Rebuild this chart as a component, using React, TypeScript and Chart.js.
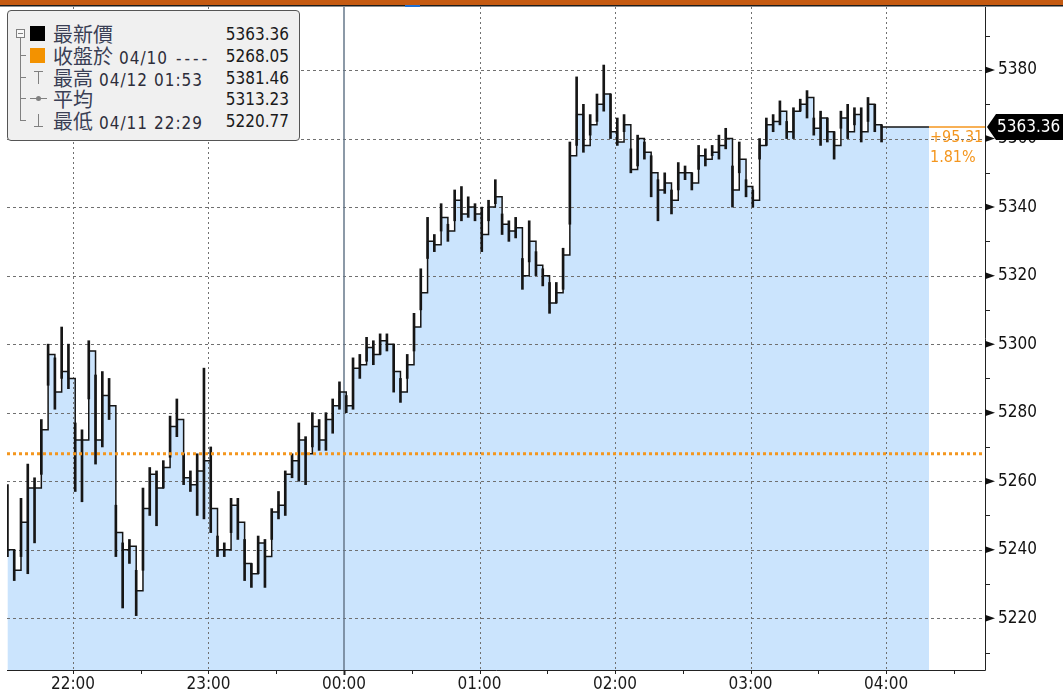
import React, { useEffect, useRef } from "react";
import { Chart, registerables } from "chart.js";
Chart.register(...registerables);

// ---- data (3-minute bars, minutes relative to 00:00 of 04/12) ----
const barStartMinute = -149; // 21:31
const barStepMinutes = 3;
const closes = [
  5240, 5234, 5248, 5258, 5258, 5275, 5297, 5286, 5292, 5290,
  5272, 5272, 5298, 5272, 5285, 5282, 5245, 5240, 5241, 5228,
  5252, 5262, 5258, 5264, 5276, 5278, 5261, 5259, 5263, 5266,
  5252, 5240, 5240, 5253, 5248, 5236, 5233, 5242, 5238, 5251,
  5253, 5262, 5266, 5272, 5268, 5276, 5272, 5278, 5282, 5286,
  5282, 5293, 5294, 5299, 5297, 5301, 5300, 5292, 5286, 5294,
  5305, 5315, 5330, 5329, 5337, 5333, 5342, 5338, 5340, 5338,
  5332, 5340, 5343, 5335, 5333, 5334, 5320, 5330, 5323, 5320,
  5312, 5315, 5326, 5355, 5367, 5358, 5364, 5370, 5373, 5362,
  5359, 5364, 5351, 5360, 5356, 5350, 5345, 5347, 5342, 5350,
  5350, 5347, 5355, 5354, 5356, 5358, 5360, 5345, 5354, 5346,
  5342, 5358, 5364, 5365, 5368, 5362, 5368, 5370, 5372, 5363,
  5366, 5362, 5358, 5366, 5362, 5367, 5362, 5370, 5364, 5363.36,
];
const highs = [
  5259, 5240, 5255, 5265, 5261, 5278, 5300, 5296, 5305, 5300,
  5277, 5275, 5301, 5291, 5292, 5290, 5253, 5242, 5243, 5234,
  5258, 5264, 5263, 5266, 5279, 5284, 5268, 5263, 5268, 5293,
  5270, 5244, 5242, 5255, 5255, 5243, 5236, 5244, 5243, 5252,
  5257, 5263, 5268, 5277, 5273, 5280, 5278, 5280, 5284, 5289,
  5285, 5296, 5297, 5302, 5301, 5303, 5303, 5300, 5290, 5297,
  5309, 5322, 5337, 5332, 5341, 5335, 5345, 5346, 5343, 5341,
  5340, 5342, 5348, 5338, 5336, 5337, 5325, 5336, 5327, 5322,
  5318, 5318, 5328, 5359, 5378, 5370, 5367, 5373, 5381.46, 5373,
  5366, 5367, 5357, 5361, 5359, 5355, 5348, 5350, 5345, 5353,
  5352, 5350, 5358, 5357, 5358, 5361, 5363, 5352, 5359, 5348,
  5345, 5360, 5366, 5367, 5371, 5365, 5369, 5371.5, 5374, 5366,
  5368, 5366, 5362, 5368, 5370, 5369, 5369, 5372, 5370, 5364,
];
const lows = [
  5238, 5231, 5238, 5233, 5242, 5262, 5288, 5281, 5290, 5287,
  5257, 5254, 5284, 5265, 5270, 5278, 5238, 5223, 5236, 5220.77,
  5234, 5250, 5247, 5258, 5267, 5273, 5259, 5257, 5250, 5249,
  5245, 5238, 5238, 5245, 5243, 5231, 5229, 5233, 5229, 5243,
  5249, 5250, 5261, 5260, 5259, 5270, 5269, 5269, 5274, 5281,
  5280, 5281, 5290, 5295, 5294, 5297, 5298, 5286, 5283, 5290,
  5298, 5310, 5325, 5327, 5333, 5330, 5336, 5336, 5337, 5336,
  5327, 5336, 5341, 5332, 5330, 5331, 5316, 5324, 5320, 5317,
  5309, 5312, 5316, 5335, 5358, 5356, 5361, 5365, 5368, 5360,
  5358, 5362, 5350, 5352, 5354, 5343, 5336, 5344, 5338, 5345,
  5348, 5345, 5351, 5352, 5355, 5354, 5357, 5340, 5350, 5343,
  5340, 5354, 5358, 5362, 5364, 5360, 5360, 5368, 5366, 5361,
  5358, 5359, 5354, 5363, 5360, 5364, 5359, 5365, 5362, 5359,
];
const lastPrice = 5363.36;
const prevClose = 5268.05;
const extendToMinute = 259; // last price carried forward to 04:19
const xTickMinutes = [-120, -60, 0, 60, 120, 180, 240];
const yTickValues = [5220, 5240, 5260, 5280, 5300, 5320, 5340, 5360, 5380];
const legendNames = ["最新價", "收盤於", "最高", "平均", "最低"];
const legendNotes = ["", "04/10", "04/12 01:53", "", "04/11 22:29"];
const legendValues = ["5363.36", "5268.05", "5381.46", "5313.23", "5220.77"];

const X_MIN = -149.2;
const X_MAX = 283.8;
const Y_MIN = 5204.9;
const Y_MAX = 5398.4;

const FONT = "'DejaVu Sans Condensed', 'DejaVu Sans', sans-serif";
const ORANGE = "#f4961e";

function fmtTime(m: number) {
  const mm = ((Math.round(m) % 1440) + 1440) % 1440;
  const h = Math.floor(mm / 60);
  const mi = mm % 60;
  return String(h).padStart(2, "0") + ":" + String(mi).padStart(2, "0");
}

function zeroPad(s: any) {
  s.paddingTop = 0;
  s.paddingBottom = 0;
  s.paddingLeft = 0;
  s.paddingRight = 0;
}

const decorPlugin = {
  id: "decor",
  afterDatasetDraw(chart: any, args: any) {
    if (args.index !== 0) return;
    const { ctx, chartArea: a, scales } = chart;
    const xs = scales.x, ys = scales.y;
    ctx.save();
    ctx.lineWidth = 1;
    ctx.strokeStyle = "#707070";
    ctx.setLineDash([3, 3]);
    yTickValues.forEach((v) => {
      const y = Math.round(ys.getPixelForValue(v)) + 0.5;
      ctx.beginPath();
      ctx.moveTo(a.left, y);
      ctx.lineTo(a.right, y);
      ctx.stroke();
    });
    ctx.setLineDash([2, 3]);
    xTickMinutes.forEach((m) => {
      if (m === 0) return;
      const x = Math.round(xs.getPixelForValue(m)) + 0.5;
      ctx.beginPath();
      ctx.moveTo(x, a.top);
      ctx.lineTo(x, a.bottom);
      ctx.stroke();
    });
    ctx.setLineDash([]);
    ctx.strokeStyle = "#66778a";
    ctx.lineWidth = 1.5;
    const x0 = Math.round(xs.getPixelForValue(0));
    ctx.beginPath();
    ctx.moveTo(x0, a.top);
    ctx.lineTo(x0, a.bottom);
    ctx.stroke();
    ctx.restore();
  },
  afterDatasetsDraw(chart: any) {
    const { ctx, chartArea: a, scales } = chart;
    const xs = scales.x, ys = scales.y;
    ctx.save();
    // previous close dotted line
    const yp = ys.getPixelForValue(prevClose);
    ctx.strokeStyle = ORANGE;
    ctx.lineWidth = 3;
    ctx.setLineDash([3, 3]);
    ctx.beginPath();
    ctx.moveTo(a.left, yp);
    ctx.lineTo(a.right, yp);
    ctx.stroke();
    ctx.setLineDash([]);
    // last price extension line
    const yl = ys.getPixelForValue(lastPrice);
    const xe = xs.getPixelForValue(extendToMinute);
    ctx.lineWidth = 1.5;
    ctx.beginPath();
    ctx.moveTo(xe, yl);
    ctx.lineTo(a.right, yl);
    ctx.stroke();
    // change text
    const chg = lastPrice - prevClose;
    const pct = (chg / prevClose) * 100;
    ctx.fillStyle = ORANGE;
    ctx.font = "16px " + FONT;
    ctx.textAlign = "left";
    ctx.textBaseline = "middle";
    ctx.fillText((chg >= 0 ? "+" : "") + chg.toFixed(2), xe + 1, yl + 11);
    ctx.fillText(pct.toFixed(2) + "%", xe + 1, yl + 31);
    ctx.restore();
  },
  afterDraw(chart: any) {
    const { ctx, chartArea: a, scales, width } = chart;
    const xs = scales.x, ys = scales.y;
    ctx.save();
    // top bar
    ctx.fillStyle = "#c55a11";
    ctx.fillRect(0, 0, width, 5);
    ctx.fillStyle = "#1c1c1c";
    ctx.fillRect(0, 5, width, 1.5);
    ctx.fillStyle = "#1f6fd1";
    ctx.fillRect(405, 5, 15, 2);
    // axes lines
    ctx.strokeStyle = "#222";
    ctx.lineWidth = 1;
    ctx.beginPath();
    ctx.moveTo(a.right + 0.5, a.top);
    ctx.lineTo(a.right + 0.5, a.bottom + 0.5);
    ctx.moveTo(a.left, a.bottom + 0.5);
    ctx.lineTo(a.right + 0.5, a.bottom + 0.5);
    ctx.stroke();
    // x ticks at every half hour
    for (let m = -120; m <= 270; m += 30) {
      const x = Math.round(xs.getPixelForValue(m)) + 0.5;
      ctx.beginPath();
      ctx.moveTo(x, a.bottom);
      ctx.lineTo(x, a.bottom + (m === 0 ? 5 : 4));
      ctx.lineWidth = m === 0 ? 2 : 1;
      ctx.stroke();
    }
    ctx.lineWidth = 1;
    // y minor ticks and arrow markers
    ctx.fillStyle = "#111";
    yTickValues.forEach((v) => {
      const y = ys.getPixelForValue(v);
      ctx.beginPath();
      ctx.moveTo(a.right, y - 3.5);
      ctx.lineTo(a.right + 10, y);
      ctx.lineTo(a.right, y + 3.5);
      ctx.closePath();
      ctx.fill();
      [v - 10, v + 10].forEach((mv) => {
        if (mv < Y_MIN || mv > Y_MAX) return;
        const my = Math.round(ys.getPixelForValue(mv)) + 0.5;
        ctx.beginPath();
        ctx.moveTo(a.right, my);
        ctx.lineTo(a.right + 5, my);
        ctx.stroke();
      });
    });
    // last price tag
    const yl = ys.getPixelForValue(lastPrice);
    ctx.fillStyle = "#000";
    ctx.beginPath();
    ctx.moveTo(a.right + 2, yl);
    ctx.lineTo(a.right + 11, yl - 13);
    ctx.lineTo(width, yl - 13);
    ctx.lineTo(width, yl + 13);
    ctx.lineTo(a.right + 11, yl + 13);
    ctx.closePath();
    ctx.fill();
    ctx.fillStyle = "#fff";
    ctx.font = "17px " + FONT;
    ctx.textAlign = "left";
    ctx.textBaseline = "middle";
    ctx.fillText(lastPrice.toFixed(2), a.right + 12, yl + 1);
    ctx.restore();
  },
};

function Legend() {
  const rowTop = [23, 45, 67, 88, 110];
  const gray = "#808080";
  const txt = "#2d2d3a";
  return (
    <div
      style={{
        position: "absolute",
        left: 7,
        top: 10,
        width: 293,
        height: 131,
        background: "#f0f0f0",
        border: "1px solid #555",
        borderRadius: 4,
        fontFamily: FONT,
        color: txt,
        boxSizing: "border-box",
      }}
    >
      {/* tree */}
      <div style={{ position: "absolute", left: 8, top: 18, width: 7, height: 7, border: "1px solid " + gray, background: "#f8f8f8" }}>
        <div style={{ position: "absolute", left: 1, top: 3, width: 5, height: 1, background: gray }} />
      </div>
      <div style={{ position: "absolute", left: 12, top: 27, width: 1, height: 83, background: gray }} />
      {rowTop.slice(1).map((t, i) => (
        <div key={"s" + i} style={{ position: "absolute", left: 12, top: t - 1, width: 6, height: 1, background: gray }} />
      ))}
      {/* icons */}
      <div style={{ position: "absolute", left: 22, top: rowTop[0] - 8, width: 15, height: 15, background: "#000" }} />
      <div style={{ position: "absolute", left: 22, top: rowTop[1] - 8, width: 15, height: 15, background: "#f39200" }} />
      <div style={{ position: "absolute", left: 26, top: rowTop[2] - 7, width: 9, height: 1, background: gray }} />
      <div style={{ position: "absolute", left: 30, top: rowTop[2] - 7, width: 1, height: 13, background: gray }} />
      <div style={{ position: "absolute", left: 22, top: rowTop[3] - 1, width: 17, height: 1, background: gray }} />
      <div style={{ position: "absolute", left: 28, top: rowTop[3] - 3.5, width: 5, height: 5, borderRadius: 3, background: gray }} />
      <div style={{ position: "absolute", left: 30, top: rowTop[4] - 7, width: 1, height: 13, background: gray }} />
      <div style={{ position: "absolute", left: 26, top: rowTop[4] + 5, width: 9, height: 1, background: gray }} />
      {legendNames.map((n, i) => (
        <div
          key={n}
          style={{
            position: "absolute",
            left: 45,
            top: rowTop[i] - 12,
            height: 24,
            lineHeight: "24px",
            whiteSpace: "nowrap",
            fontSize: 17,
          }}
        >
          <span style={{ fontFamily: "'Noto Sans CJK TC', sans-serif", fontSize: 20, color: "#3a3f55" }}>{n}</span>
          {legendNotes[i] ? <span style={{ marginLeft: 6, letterSpacing: 1 }}>{legendNotes[i]}</span> : null}
          {i === 1 ? <span style={{ marginLeft: 8, letterSpacing: 3 }}>----</span> : null}
        </div>
      ))}
      {legendValues.map((v, i) => (
        <div
          key={"v" + i}
          style={{
            position: "absolute",
            right: 10,
            top: rowTop[i] - 12,
            height: 24,
            lineHeight: "24px",
            fontSize: 17,
            color: "#1a1a1a",
          }}
        >
          {v}
        </div>
      ))}
    </div>
  );
}

export default function App() {
  const ref = useRef<HTMLCanvasElement | null>(null);
  useEffect(() => {
    document.body.style.margin = "0";
    const times = closes.map((_, i) => barStartMinute + i * barStepMinutes);
    const closePts = closes.map((c, i) => ({ x: times[i], y: c }));
    closePts.push({ x: extendToMinute, y: lastPrice });
    const barPts = highs.map((h, i) => ({ x: times[i], y: [lows[i], h] }));
    const chart = new Chart(ref.current as HTMLCanvasElement, {
      type: "bar",
      data: {
        datasets: [
          {
            type: "line",
            data: closePts,
            stepped: true,
            fill: "start",
            backgroundColor: "#cbe4fd",
            borderWidth: 0,
            pointRadius: 0,
            order: 3,
          } as any,
          {
            type: "bar",
            data: barPts,
            backgroundColor: "#161616",
            borderWidth: 0,
            barThickness: 2,
            order: 2,
          } as any,
          {
            type: "line",
            data: closePts,
            stepped: true,
            fill: false,
            borderColor: "#151515",
            borderWidth: 1.5,
            pointRadius: 0,
            order: 1,
          } as any,
        ],
      },
      options: {
        responsive: false,
        animation: false,
        devicePixelRatio: 1,
        layout: { padding: { left: 7, top: 7, right: 0, bottom: 0 } },
        plugins: { legend: { display: false }, tooltip: { enabled: false } },
        scales: {
          x: {
            type: "linear",
            min: X_MIN,
            max: X_MAX,
            offset: false,
            grid: { display: false, drawTicks: false },
            border: { display: false },
            afterBuildTicks: (s: any) => {
              s.ticks = xTickMinutes.map((v) => ({ value: v }));
            },
            afterFit: (s: any) => {
              s.height = 23;
              zeroPad(s);
            },
            ticks: {
              autoSkip: false,
              maxRotation: 0,
              padding: 4,
              color: "#1a1a1a",
              font: { family: FONT, size: 17 },
              callback: (v: any) => fmtTime(Number(v)),
            },
          },
          y: {
            position: "right",
            min: Y_MIN,
            max: Y_MAX,
            grid: { display: false, drawTicks: false },
            border: { display: false },
            afterBuildTicks: (s: any) => {
              s.ticks = yTickValues.map((v) => ({ value: v }));
            },
            afterFit: (s: any) => {
              s.width = 78;
              zeroPad(s);
            },
            ticks: {
              autoSkip: false,
              padding: 13,
              color: "#111",
              font: { family: FONT, size: 17 },
              callback: (v: any) => String(v),
            },
          },
        },
      } as any,
      plugins: [decorPlugin],
    });
    return () => chart.destroy();
  }, []);
  return (
    <div style={{ position: "relative", width: 1063, height: 693, background: "#fff", overflow: "hidden" }}>
      <canvas ref={ref} width={1063} height={693} style={{ display: "block" }} />
      <Legend />
    </div>
  );
}
